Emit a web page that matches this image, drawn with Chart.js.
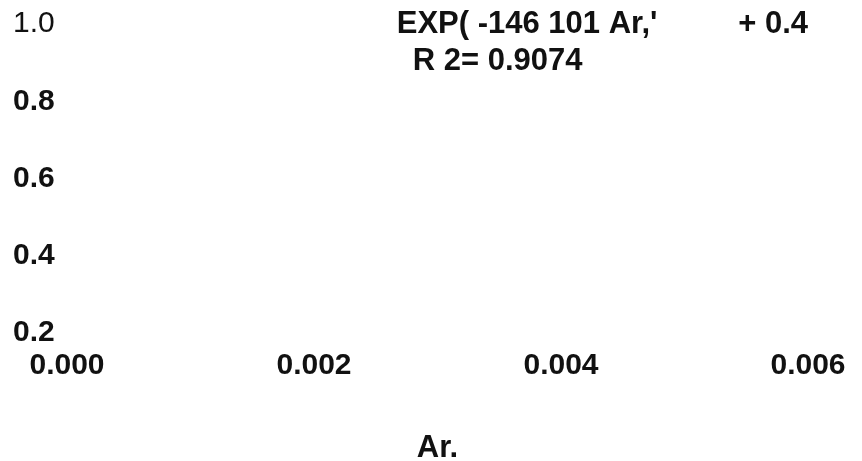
<!DOCTYPE html>
<html>
<head>
<meta charset="utf-8">
<title>Ar. scatter frame</title>
<script src="https://cdn.jsdelivr.net/npm/chart.js@4.4.1/dist/chart.umd.min.js"></script>
<style>
  html, body { margin: 0; padding: 0; background: #ffffff; }
  #wrap { width: 862px; height: 461px; }
</style>
</head>
<body>
<div id="wrap"><canvas id="chart" width="862" height="461"></canvas></div>
<script>
// Axis ticks and their printed labels
const xTicks = [0, 0.002, 0.004, 0.006];
const xTickLabels = ['0.000', '0.002', '0.004', '0.006'];
const yTicks = [0.2, 0.4, 0.6, 0.8, 1.0];
const yTickLabels = ['0.2', '0.4', '0.6', '0.8', '1.0'];

// Fitted-curve caption and axis title
const fitEquation = ["EXP( -146 101 Ar,'", '+ 0.4'];
const fitR2 = 'R 2= 0.9074';
const xAxisTitle = 'Ar.';

const FONT_FAMILY = '"Liberation Sans", Arial, Helvetica, sans-serif';
const INK = '#111111';

// Draws the trendline caption anchored to axis values
const fitLabelPlugin = {
  id: 'fitLabel',
  afterDraw(chart, args, opts) {
    const { ctx, scales: { x, y } } = chart;
    ctx.save();
    ctx.font = 'bold ' + opts.size + 'px ' + FONT_FAMILY;
    ctx.fillStyle = INK;
    ctx.textBaseline = 'middle';
    const y1 = y.getPixelForValue(opts.lineOneY);
    ctx.textAlign = 'left';
    ctx.fillText(fitEquation[0], x.getPixelForValue(opts.equationX), y1);
    ctx.textAlign = 'right';
    ctx.fillText(fitEquation[1], x.getPixelForValue(x.max), y1);
    ctx.textAlign = 'left';
    ctx.fillText(fitR2, x.getPixelForValue(opts.r2X), y.getPixelForValue(opts.lineTwoY));
    ctx.restore();
  }
};

new Chart(document.getElementById('chart'), {
  type: 'scatter',
  data: { datasets: [] },
  plugins: [fitLabelPlugin],
  options: {
    responsive: false,
    animation: false,
    layout: { padding: { left: 13, right: 54, top: 24, bottom: 0 } },
    plugins: {
      legend: { display: false },
      tooltip: { enabled: false },
      fitLabel: { size: 31, equationX: 0.00267, r2X: 0.0028, lineOneY: 1.0, lineTwoY: 0.903 }
    },
    scales: {
      x: {
        type: 'linear',
        min: xTicks[0],
        max: xTicks[xTicks.length - 1],
        grid: { display: false, drawTicks: false },
        border: { display: false },
        afterBuildTicks: (scale) => { scale.ticks = xTicks.map(v => ({ value: v })); },
        afterFit: (scale) => { scale.height = 128; },
        ticks: {
          padding: 15,
          color: INK,
          maxRotation: 0,
          autoSkip: false,
          font: { family: FONT_FAMILY, size: 30, weight: 'bold' },
          callback: (value, index) => xTickLabels[index]
        },
        title: {
          display: true,
          text: xAxisTitle,
          color: INK,
          font: { family: FONT_FAMILY, size: 31, weight: 'bold', lineHeight: 0.8 },
          padding: { top: 0, bottom: 0 }
        }
      },
      y: {
        type: 'linear',
        min: yTicks[0],
        max: yTicks[yTicks.length - 1],
        grid: { display: false, drawTicks: false },
        border: { display: false },
        afterBuildTicks: (scale) => { scale.ticks = yTicks.map(v => ({ value: v })); },
        afterFit: (scale) => { scale.width = 54; },
        ticks: {
          crossAlign: 'far',
          padding: 0,
          color: INK,
          autoSkip: false,
          font: (ctx) => ({
            family: FONT_FAMILY,
            size: 30,
            weight: ctx.tick && ctx.tick.value === 1 ? 'normal' : 'bold'
          }),
          callback: (value, index) => yTickLabels[index]
        }
      }
    }
  }
});
</script>
</body>
</html>
